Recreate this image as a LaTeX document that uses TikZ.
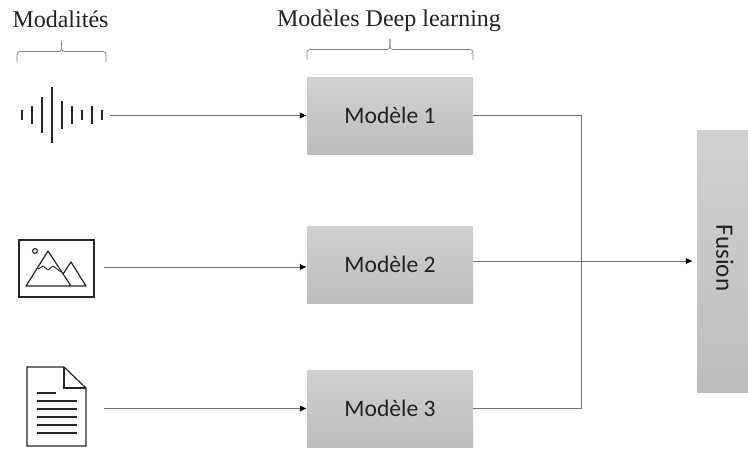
\documentclass[tikz,border=0pt]{standalone}
\usepackage{fontspec}
\setmainfont{Liberation Serif}
\newfontfamily\boxfont{Carlito}
\usetikzlibrary{arrows.meta}
\definecolor{wire}{HTML}{707070}
\definecolor{ink}{HTML}{222222}
\newcommand{\modbrace}[3]{
\draw[bracket] (#1,#3) -- (#1,#3-10.5) -- (#1/2+#2/2,#3-10.5) -- (#1/2+#2/2,#3-21);
\draw[bracket] (#2,#3) -- (#2,#3-10.5) -- (#1/2+#2/2,#3-10.5) -- (#1/2+#2/2,#3-21);}
\begin{document}
\begin{tikzpicture}[x=1pt,y=-1pt,
model/.style={minimum width=166pt,minimum height=77pt,inner sep=0pt,top color=black!18,bottom color=black!26,text=ink,font={\boxfont\fontsize{23.6pt}{28pt}\selectfont}},
flow/.style={wire,line width=1pt,-{Latex[black,length=7pt,width=6.5pt]}},
wireline/.style={wire,line width=1pt},
bracket/.style={black!50,line width=.7pt,rounded corners=3pt},
title/.style={anchor=base,text=ink,font={\fontsize{24pt}{28pt}\selectfont}},
icon/.style={black!85,line width=1.2pt}
]
\useasboundingbox (0,0) rectangle (748,448);

\node[title] (t1) at (60.5,27) {Modalités};
\node[title] (t2) at (389,26) {Modèles Deep learning};
\modbrace{17}{106}{62}
\modbrace{307}{473}{60}

\node[model] (m1) at (390,115.5) {Modèle 1};
\node[model] (m2) at (390,264.5) {Modèle 2};
\node[model] (m3) at (390,408.5) {Modèle 3};
\node[model,minimum width=51pt,minimum height=262pt] (fusion) at (722.5,261) {};
\node[rotate=-90,text=ink,font={\boxfont\fontsize{25pt}{30pt}\selectfont}] (f) at (725,258) {Fusion};

% wave
\foreach \x/\h in {22/5,32/9,42/18,52/28,62/14,72/9,82/5,92/9,102/5}
\draw[icon,line width=1.5pt] (\x,115-\h) -- (\x,115+\h);
% image
\draw[icon] (19,240) rectangle (94,297);
\draw[icon] (35,251) circle (2.4);
\draw[icon,line join=round] (71,286) -- (48,251) -- (26,286) -- (86,286) -- (71,262) -- (63,274);
\draw[icon,line width=.9pt] (38,269) -- (43,266) -- (48,270) -- (53,266) -- (61,272);
% text
\draw[icon] (64,367) -- (27,367) -- (27,446) -- (86,446) -- (86,388) -- cycle;
\draw[icon] (64,367) -- (64,388) -- (86,388);
\draw[icon] (37,393) -- (56,393);
\foreach \y in {401,409,417,425,433}
\draw[icon] (37,\y) -- (77,\y);

\coordinate (s1) at (110,115.5);
\coordinate (s2) at (104,267);
\coordinate (s3) at (104,408.5);
\coordinate (b1) at (581.5,261);
\coordinate (b2) at (577,261);

\draw[flow] (s1) -- (m1.west);
\draw[flow] (s2) -- (m2.west |- s2);
\draw[flow] (s3) -- (m3.west);
\draw[wireline] (m1.east) -- (m1.east -| b1) -- (m3.east -| b1) -- (m3.east);
\draw[wireline] (m2.east |- b1) -- (b1);
\draw[flow,shorten >=4pt] (b2) -- (fusion.west);
\end{tikzpicture}
\end{document}
